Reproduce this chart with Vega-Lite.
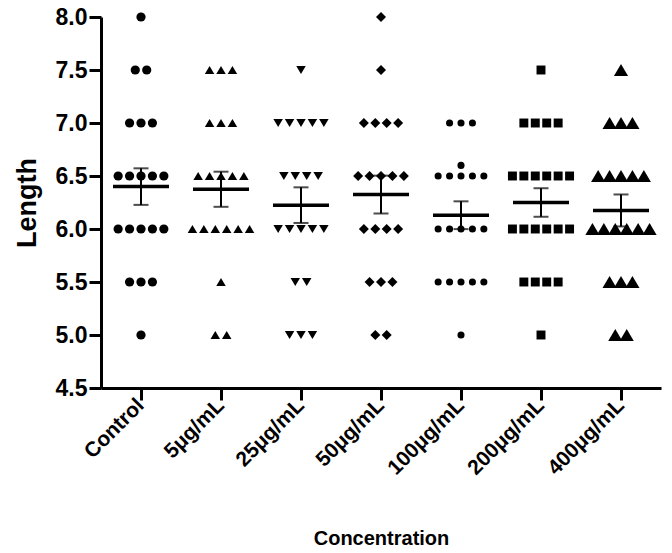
{
  "$schema": "https://vega.github.io/schema/vega-lite/v6.json",
  "autosize": "none",
  "padding": {"left": 101, "top": 17, "right": 11, "bottom": 165},
  "width": 560,
  "height": 371,
  "background": "white",
  "config": {
    "view": {"stroke": null},
    "font": "Liberation Sans",
    "axis": {
      "domainColor": "black", "domainWidth": 3, "tickColor": "black", "tickWidth": 3, "tickSize": 12,
      "labelColor": "black", "labelFont": "Liberation Sans", "labelFontWeight": "bold",
      "titleColor": "black", "titleFont": "Liberation Sans", "titleFontWeight": "bold", "grid": false
    }
  },
  "data": {
    "values": [
      {"group": "Control", "length": 8.0},
      {"group": "Control", "length": 7.5}, {"group": "Control", "length": 7.5},
      {"group": "Control", "length": 7.0}, {"group": "Control", "length": 7.0}, {"group": "Control", "length": 7.0},
      {"group": "Control", "length": 6.5}, {"group": "Control", "length": 6.5}, {"group": "Control", "length": 6.5}, {"group": "Control", "length": 6.5}, {"group": "Control", "length": 6.5},
      {"group": "Control", "length": 6.0}, {"group": "Control", "length": 6.0}, {"group": "Control", "length": 6.0}, {"group": "Control", "length": 6.0}, {"group": "Control", "length": 6.0},
      {"group": "Control", "length": 5.5}, {"group": "Control", "length": 5.5}, {"group": "Control", "length": 5.5},
      {"group": "Control", "length": 5.0},

      {"group": "5μg/mL", "length": 7.5}, {"group": "5μg/mL", "length": 7.5}, {"group": "5μg/mL", "length": 7.5},
      {"group": "5μg/mL", "length": 7.0}, {"group": "5μg/mL", "length": 7.0}, {"group": "5μg/mL", "length": 7.0},
      {"group": "5μg/mL", "length": 6.5}, {"group": "5μg/mL", "length": 6.5}, {"group": "5μg/mL", "length": 6.5}, {"group": "5μg/mL", "length": 6.5}, {"group": "5μg/mL", "length": 6.5},
      {"group": "5μg/mL", "length": 6.0}, {"group": "5μg/mL", "length": 6.0}, {"group": "5μg/mL", "length": 6.0}, {"group": "5μg/mL", "length": 6.0}, {"group": "5μg/mL", "length": 6.0}, {"group": "5μg/mL", "length": 6.0},
      {"group": "5μg/mL", "length": 5.5},
      {"group": "5μg/mL", "length": 5.0}, {"group": "5μg/mL", "length": 5.0},

      {"group": "25μg/mL", "length": 7.5},
      {"group": "25μg/mL", "length": 7.0}, {"group": "25μg/mL", "length": 7.0}, {"group": "25μg/mL", "length": 7.0}, {"group": "25μg/mL", "length": 7.0}, {"group": "25μg/mL", "length": 7.0},
      {"group": "25μg/mL", "length": 6.5}, {"group": "25μg/mL", "length": 6.5}, {"group": "25μg/mL", "length": 6.5}, {"group": "25μg/mL", "length": 6.5},
      {"group": "25μg/mL", "length": 6.0}, {"group": "25μg/mL", "length": 6.0}, {"group": "25μg/mL", "length": 6.0}, {"group": "25μg/mL", "length": 6.0}, {"group": "25μg/mL", "length": 6.0},
      {"group": "25μg/mL", "length": 5.5}, {"group": "25μg/mL", "length": 5.5},
      {"group": "25μg/mL", "length": 5.0}, {"group": "25μg/mL", "length": 5.0}, {"group": "25μg/mL", "length": 5.0},

      {"group": "50μg/mL", "length": 8.0},
      {"group": "50μg/mL", "length": 7.5},
      {"group": "50μg/mL", "length": 7.0}, {"group": "50μg/mL", "length": 7.0}, {"group": "50μg/mL", "length": 7.0}, {"group": "50μg/mL", "length": 7.0},
      {"group": "50μg/mL", "length": 6.5}, {"group": "50μg/mL", "length": 6.5}, {"group": "50μg/mL", "length": 6.5}, {"group": "50μg/mL", "length": 6.5}, {"group": "50μg/mL", "length": 6.5},
      {"group": "50μg/mL", "length": 6.0}, {"group": "50μg/mL", "length": 6.0}, {"group": "50μg/mL", "length": 6.0}, {"group": "50μg/mL", "length": 6.0},
      {"group": "50μg/mL", "length": 5.5}, {"group": "50μg/mL", "length": 5.5}, {"group": "50μg/mL", "length": 5.5},
      {"group": "50μg/mL", "length": 5.0}, {"group": "50μg/mL", "length": 5.0},

      {"group": "100μg/mL", "length": 7.0}, {"group": "100μg/mL", "length": 7.0}, {"group": "100μg/mL", "length": 7.0},
      {"group": "100μg/mL", "length": 6.6},
      {"group": "100μg/mL", "length": 6.5}, {"group": "100μg/mL", "length": 6.5}, {"group": "100μg/mL", "length": 6.5}, {"group": "100μg/mL", "length": 6.5}, {"group": "100μg/mL", "length": 6.5},
      {"group": "100μg/mL", "length": 6.0}, {"group": "100μg/mL", "length": 6.0}, {"group": "100μg/mL", "length": 6.0}, {"group": "100μg/mL", "length": 6.0}, {"group": "100μg/mL", "length": 6.0},
      {"group": "100μg/mL", "length": 5.5}, {"group": "100μg/mL", "length": 5.5}, {"group": "100μg/mL", "length": 5.5}, {"group": "100μg/mL", "length": 5.5}, {"group": "100μg/mL", "length": 5.5},
      {"group": "100μg/mL", "length": 5.0},

      {"group": "200μg/mL", "length": 7.5},
      {"group": "200μg/mL", "length": 7.0}, {"group": "200μg/mL", "length": 7.0}, {"group": "200μg/mL", "length": 7.0}, {"group": "200μg/mL", "length": 7.0},
      {"group": "200μg/mL", "length": 6.5}, {"group": "200μg/mL", "length": 6.5}, {"group": "200μg/mL", "length": 6.5}, {"group": "200μg/mL", "length": 6.5}, {"group": "200μg/mL", "length": 6.5}, {"group": "200μg/mL", "length": 6.5},
      {"group": "200μg/mL", "length": 6.0}, {"group": "200μg/mL", "length": 6.0}, {"group": "200μg/mL", "length": 6.0}, {"group": "200μg/mL", "length": 6.0}, {"group": "200μg/mL", "length": 6.0}, {"group": "200μg/mL", "length": 6.0},
      {"group": "200μg/mL", "length": 5.5}, {"group": "200μg/mL", "length": 5.5}, {"group": "200μg/mL", "length": 5.5}, {"group": "200μg/mL", "length": 5.5},
      {"group": "200μg/mL", "length": 5.0},

      {"group": "400μg/mL", "length": 7.5},
      {"group": "400μg/mL", "length": 7.0}, {"group": "400μg/mL", "length": 7.0}, {"group": "400μg/mL", "length": 7.0},
      {"group": "400μg/mL", "length": 6.5}, {"group": "400μg/mL", "length": 6.5}, {"group": "400μg/mL", "length": 6.5}, {"group": "400μg/mL", "length": 6.5}, {"group": "400μg/mL", "length": 6.5},
      {"group": "400μg/mL", "length": 6.0}, {"group": "400μg/mL", "length": 6.0}, {"group": "400μg/mL", "length": 6.0}, {"group": "400μg/mL", "length": 6.0}, {"group": "400μg/mL", "length": 6.0}, {"group": "400μg/mL", "length": 6.0},
      {"group": "400μg/mL", "length": 5.5}, {"group": "400μg/mL", "length": 5.5}, {"group": "400μg/mL", "length": 5.5},
      {"group": "400μg/mL", "length": 5.0}, {"group": "400μg/mL", "length": 5.0}
    ]
  },
  "encoding": {
    "x": {
      "field": "group", "type": "nominal",
      "sort": ["Control", "5μg/mL", "25μg/mL", "50μg/mL", "100μg/mL", "200μg/mL", "400μg/mL"],
      "scale": {"paddingInner": 0, "paddingOuter": 0},
      "axis": {"title": "Concentration", "labelAngle": -45, "labelAlign": "right", "labelBaseline": "middle", "labelFontSize": 21, "labelPadding": 2, "titleFontSize": 20, "titlePadding": 50}
    }
  },
  "layer": [
    {
      "transform": [
        {"window": [{"op": "row_number", "as": "rank"}], "groupby": ["group", "length"]},
        {"joinaggregate": [{"op": "count", "as": "n"}], "groupby": ["group", "length"]},
        {"calculate": "datum.rank - (datum.n + 1) / 2", "as": "slot"}
      ],
      "mark": {"type": "point", "filled": true, "color": "black", "opacity": 1, "strokeJoin": "round"},
      "encoding": {
        "y": {
          "field": "length", "type": "quantitative", "title": "Length",
          "scale": {"domain": [4.5, 8], "nice": false, "zero": false},
          "axis": {"title": "Length", "values": [4.5, 5, 5.5, 6, 6.5, 7, 7.5, 8], "format": ".1f", "labelFontSize": 23, "labelPadding": 2, "titleFontSize": 27, "titlePadding": 14}
        },
        "xOffset": {"field": "slot", "type": "quantitative", "scale": {"domain": [-3.5, 3.5]}},
        "shape": {
          "field": "group", "type": "nominal", "legend": null,
          "scale": {
            "type": "ordinal",
            "domain": ["Control", "5μg/mL", "25μg/mL", "50μg/mL", "100μg/mL", "200μg/mL", "400μg/mL"],
            "range": ["circle", "triangle-up", "triangle-down", "diamond", "circle", "square", "triangle-up"]
          }
        },
        "size": {
          "field": "group", "type": "nominal", "legend": null,
          "scale": {
            "type": "ordinal",
            "domain": ["Control", "5μg/mL", "25μg/mL", "50μg/mL", "100μg/mL", "200μg/mL", "400μg/mL"],
            "range": [85, 90, 90, 100, 50, 80, 200]
          }
        }
      }
    },
    {
      "mark": {"type": "errorbar", "extent": "stderr", "color": "black", "thickness": 2, "ticks": {"size": 15, "thickness": 2, "color": "black"}},
      "encoding": {
        "y": {"field": "length", "type": "quantitative", "title": "Length"}
      }
    },
    {
      "mark": {"type": "tick", "color": "black", "size": 56, "thickness": 3.5, "orient": "horizontal"},
      "encoding": {
        "y": {"aggregate": "mean", "field": "length", "type": "quantitative", "title": "Length"}
      }
    }
  ]
}
